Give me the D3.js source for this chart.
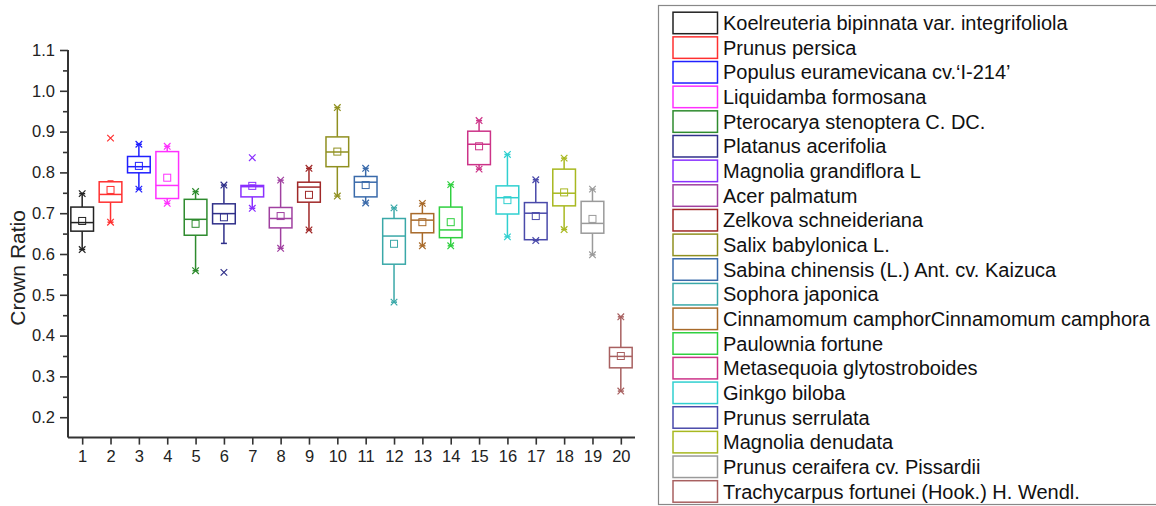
<!DOCTYPE html>
<html>
<head>
<meta charset="utf-8">
<script src="https://cdn.jsdelivr.net/npm/d3@7"></script>
<style>
  body { margin: 0; background: #fff; }
  svg { display: block; font-family: "Liberation Sans", Arial, sans-serif; }
</style>
</head>
<body>
<div id="chart"></div>
<script>
// species shown in the legend, one per box
const species = [
  "Koelreuteria bipinnata var. integrifoliola", "Prunus persica", "Populus euramevicana cv.\u2018I-214\u2019",
  "Liquidamba formosana", "Pterocarya stenoptera C. DC.", "Platanus acerifolia", "Magnolia grandiflora L",
  "Acer palmatum", "Zelkova schneideriana", "Salix babylonica L.", "Sabina chinensis (L.) Ant. cv. Kaizuca",
  "Sophora japonica", "Cinnamomum camphorCinnamomum camphora", "Paulownia fortune",
  "Metasequoia glytostroboides", "Ginkgo biloba", "Prunus serrulata", "Magnolia denudata",
  "Prunus ceraifera cv. Pissardii", "Trachycarpus fortunei (Hook.) H. Wendl."
];
const groups = d3.range(1, 21);

// box statistics
const q3     = [0.715,0.777,0.839,0.851,0.734,0.723,0.768,0.714,0.776,0.887,0.790,0.687,0.699,0.715,0.901,0.767,0.726,0.808,0.729,0.371];
const median = [0.677,0.746,0.814,0.768,0.685,0.699,0.765,0.687,0.764,0.850,0.776,0.644,0.683,0.659,0.869,0.738,0.700,0.749,0.675,0.349];
const q1     = [0.656,0.727,0.799,0.736,0.646,0.674,0.740,0.664,0.727,0.814,0.740,0.575,0.652,0.640,0.819,0.698,0.635,0.718,0.651,0.321];
const means  = [0.681,0.757,0.816,0.787,0.674,0.690,0.767,0.693,0.745,0.851,0.769,0.625,0.678,0.678,0.864,0.732,0.693,0.751,0.686,0.350];
const whiskerLow  = [0.611,0.678,0.759,0.724,0.559,0.626,0.712,0.614,0.659,0.742,0.725,0.482,0.620,0.620,0.808,0.642,0.633,0.660,0.598,0.264];
const whiskerHigh = [0.748,0.779,0.869,0.864,0.753,0.769,0.769,0.781,0.810,0.959,0.810,0.713,0.724,0.770,0.927,0.844,0.782,0.835,0.759,0.446];
const minVal = [0.611,0.678,0.759,0.724,0.559,0.555,0.712,0.614,0.659,0.742,0.725,0.482,0.620,0.620,0.808,0.642,0.633,0.660,0.598,0.264];
const maxVal = [0.748,0.884,0.869,0.864,0.753,0.769,0.836,0.781,0.810,0.959,0.810,0.713,0.724,0.770,0.927,0.844,0.782,0.835,0.759,0.446];

const yTicks = [0.2,0.3,0.4,0.5,0.6,0.7,0.8,0.9,1.0,1.1];
const palette = ["#222222","#ff3030","#2020ff","#ff30ff","#2e8b2e","#30308a","#8a30ff","#a040a0","#a02828","#909020",
                 "#3a6aaa","#3aa8a8","#a86a2a","#30d040","#cc3388","#30d0d0","#4a4aaa","#a8b820","#9a9a9a","#a86060"];

const W = 1156, H = 506;
const svg = d3.select("#chart").append("svg").attr("width", W).attr("height", H);

const x = d3.scaleLinear().domain([0.5, 20.5]).range([68, 635]);
const y = d3.scaleLinear().domain([0.15, 1.1]).range([437.6, 50]);
const boxW = (x(1) - x(0)) * 0.8;

// axes
const axisColor = "#333";
const yAxis = svg.append("g").attr("transform", "translate(68,0)")
  .call(d3.axisLeft(y).tickValues(yTicks).tickFormat(d3.format(".1f")).tickSize(8).tickPadding(5));
svg.append("g").attr("transform", "translate(68,0)")
  .call(d3.axisLeft(y).tickValues(d3.range(0.25, 1.1, 0.1)).tickFormat("").tickSize(5))
  .select(".domain").remove();
const xAxis = svg.append("g").attr("transform", "translate(0,437.6)")
  .call(d3.axisBottom(x).tickValues(groups).tickFormat(d3.format("d")).tickSize(7).tickPadding(6));
svg.selectAll(".domain").attr("stroke", axisColor).attr("stroke-width", 2);
svg.selectAll(".tick line").attr("stroke", axisColor).attr("stroke-width", 1.6);
svg.selectAll(".tick text").attr("fill", "#222").style("font-size", "16.5px").style("font-family", "Liberation Sans, Arial");
// overwrite the domains so the axes have no outer ticks
yAxis.select(".domain").attr("d", `M0,${y(1.1)}V${y(0.15)}`);
xAxis.select(".domain").attr("d", `M${x(0.5)},0H${x(20.5)}`);

svg.append("text").attr("transform", `translate(25,${y(0.566)}) rotate(-90)`)
  .attr("text-anchor", "middle").style("font-size", "21px").attr("fill", "#222").text("Crown Ratio");

// boxes
const data = groups.map((g, i) => ({
  g, i, q1: q1[i], q3: q3[i], med: median[i], mean: means[i],
  wl: whiskerLow[i], wh: whiskerHigh[i], mn: minVal[i], mx: maxVal[i]
}));
const boxes = svg.append("g").selectAll("g").data(data).join("g")
  .attr("stroke", d => palette[d.i]).attr("fill", "none").attr("stroke-width", 1.5);

boxes.append("line").attr("x1", d => x(d.g)).attr("x2", d => x(d.g))
  .attr("y1", d => y(d.q3)).attr("y2", d => y(d.wh));
boxes.append("line").attr("x1", d => x(d.g)).attr("x2", d => x(d.g))
  .attr("y1", d => y(d.q1)).attr("y2", d => y(d.wl));
// small whisker caps
boxes.append("line").attr("x1", d => x(d.g) - 3).attr("x2", d => x(d.g) + 3)
  .attr("y1", d => y(d.wh)).attr("y2", d => y(d.wh));
boxes.append("line").attr("x1", d => x(d.g) - 3).attr("x2", d => x(d.g) + 3)
  .attr("y1", d => y(d.wl)).attr("y2", d => y(d.wl));
boxes.append("rect").attr("x", d => x(d.g) - boxW / 2).attr("width", boxW)
  .attr("y", d => y(d.q3)).attr("height", d => y(d.q1) - y(d.q3)).attr("fill", "#fff");
boxes.append("line").attr("x1", d => x(d.g) - boxW / 2).attr("x2", d => x(d.g) + boxW / 2)
  .attr("y1", d => y(d.med)).attr("y2", d => y(d.med));
boxes.append("rect").attr("x", d => x(d.g) - 3.5).attr("y", d => y(d.mean) - 3.5)
  .attr("width", 7).attr("height", 7).attr("stroke-width", 1);

// x marks for min and max
const cross = d3.symbol().type(d3.symbolX).size(30);
boxes.selectAll("path.mark").data(d => [d.mn, d.mx].map(v => ({ v, g: d.g })))
  .join("path").attr("class", "mark").attr("d", cross)
  .attr("transform", m => `translate(${x(m.g)},${y(m.v)})`).attr("stroke-width", 1.2);

// legend
const legend = svg.append("g");
legend.append("rect").attr("x", 658.5).attr("y", 5.5).attr("width", 500).attr("height", 499)
  .attr("fill", "none").attr("stroke", "#888").attr("stroke-width", 1.2);
const rowY = d3.scaleLinear().domain([0, 19]).range([23, 491.5]);
const items = legend.selectAll("g.item").data(species).join("g").attr("class", "item")
  .attr("transform", (d, i) => `translate(0,${rowY(i)})`);
items.append("rect").attr("x", 673).attr("y", -10.8).attr("width", 44.5).attr("height", 21.5)
  .attr("fill", "#fff").attr("stroke", (d, i) => palette[i]).attr("stroke-width", 1.5);
items.append("text").attr("x", 723).attr("y", 7).style("font-size", "20px").attr("fill", "#111")
  .text(d => d);
</script>
</body>
</html>
